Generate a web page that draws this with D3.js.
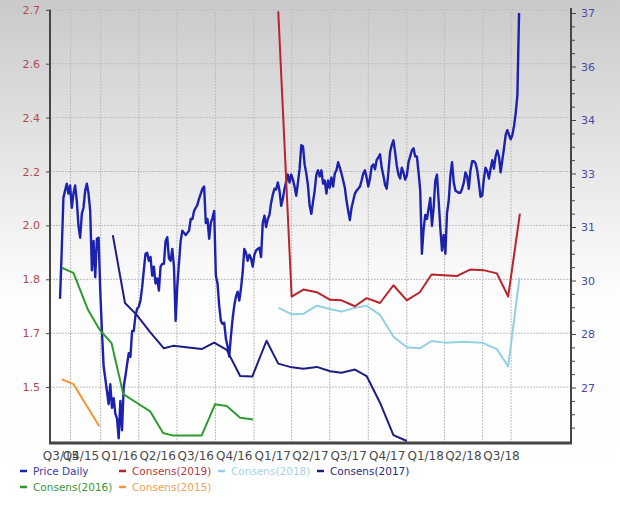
<!DOCTYPE html>
<meta charset="utf-8">
<style>
body { margin: 0; }
.grid line { stroke: #bdbdbd; stroke-width: 1; stroke-dasharray: 2,1; }
.axis-line { stroke: #454545; }
.line { fill: none; stroke-width: 2px; stroke-linejoin: round; }
.xlab { font: 12px "DejaVu Sans", sans-serif; fill: #4a4a4a; }
.legend text { font: 10.5px "DejaVu Sans", sans-serif; }
</style>
<body>

<script src="https://d3js.org/d3.v7.min.js"></script>
<script>

// ---- data ----
var leftTicks = [1.5, 1.7, 1.8, 2.0, 2.2, 2.4, 2.6, 2.7];
var rightTicks = [27, 28, 30, 31, 33, 34, 36, 37];
var quarterLabels = ["Q3/15", "Q4/15", "Q1/16", "Q2/16", "Q3/16", "Q4/16", "Q1/17",
                     "Q2/17", "Q3/17", "Q4/17", "Q1/18", "Q2/18", "Q3/18"];
var gridDates = ["2015-10-21", "2016-01-01", "2016-04-01", "2016-07-01", "2016-10-01",
                 "2017-01-01", "2017-04-01", "2017-07-01", "2017-10-01", "2018-01-01",
                 "2018-04-01", "2018-07-01", "2018-09-07"];

// Price Daily (right axis), one value every 4 days from 2015-09-26
var priceStart = "2015-09-26";
var priceStepDays = 4;
var priceDaily = [
  29.32, 30.56, 32.09, 32.36, 32.62, 32.25, 32.55, 31.72, 32.25, 32.55,
  31.98, 31.04, 30.80, 31.49, 31.72, 32.36, 32.62, 32.25, 31.60, 30.19,
  30.74, 30.06, 30.78, 30.80, 29.62, 28.11, 27.40, 27.17, 26.93, 26.69,
  27.06, 26.62, 26.80, 26.51, 26.42, 26.05, 26.75, 26.20, 27.02, 27.21,
  27.43, 27.64, 27.57, 28.11, 28.11, 28.68, 28.94, 29.02, 29.25, 29.74,
  30.19, 30.50, 30.52, 30.37, 30.44, 30.09, 30.26, 29.89, 30.04, 29.62,
  30.26, 30.31, 30.31, 30.74, 30.81, 30.41, 30.37, 30.59, 30.26, 28.49,
  29.81, 30.33, 30.74, 30.93, 30.89, 30.85, 30.89, 30.93, 31.30, 31.30,
  31.60, 31.72, 31.83, 32.06, 32.25, 32.43, 32.51, 31.15, 31.30, 30.78,
  31.15, 31.34, 31.60, 30.09, 29.89, 29.06, 28.49, 28.38, 28.42, 27.91,
  27.77, 27.58, 27.96, 28.57, 29.06, 29.40, 29.58, 29.25, 29.70, 30.15,
  30.59, 30.52, 30.37, 30.48, 30.41, 30.26, 30.48, 30.56, 30.59, 30.61,
  30.44, 31.15, 31.42, 31.00, 31.30, 31.45, 31.91, 32.21, 32.43, 32.40,
  32.66, 32.36, 31.79, 32.06, 32.43, 32.70, 32.96, 32.66, 32.96, 32.77,
  32.51, 32.17, 32.66, 33.09, 33.53, 33.51, 33.17, 33.00, 32.55, 31.79,
  31.49, 31.94, 32.36, 32.96, 33.06, 32.89, 33.06, 32.62, 32.74, 32.25,
  32.74, 32.47, 32.85, 32.51, 33.00, 33.06, 33.21, 33.11, 33.00, 32.74,
  32.47, 31.98, 31.60, 31.26, 31.72, 31.98, 32.25, 32.36, 32.43, 32.51,
  32.74, 33.00, 33.06, 32.85, 32.51, 32.81, 33.13, 33.17, 33.08, 33.25,
  33.30, 33.36, 33.11, 32.92, 32.58, 32.43, 33.02, 33.40, 33.53, 33.62,
  33.40, 33.15, 32.96, 32.81, 33.11, 33.02, 32.77, 32.92, 33.21, 33.32,
  33.43, 33.47, 33.32, 33.32, 33.02, 32.36, 30.50, 30.96, 31.45, 31.30,
  31.68, 32.09, 31.04, 31.72, 32.74, 32.96, 31.98, 30.98, 30.56, 30.85,
  30.50, 31.53, 31.98, 32.92, 33.21, 32.66, 32.36, 32.32, 32.28, 32.28,
  32.43, 32.66, 33.02, 32.89, 32.43, 33.06, 33.23, 33.23, 33.19, 33.06,
  32.66, 32.13, 32.17, 32.81, 33.11, 33.04, 32.81, 33.09, 33.25, 33.09,
  33.32, 33.43, 33.32, 33.02, 33.25, 33.47, 33.72, 33.81, 33.72, 33.64,
  33.72, 33.89, 34.26, 34.93, 37.00
];

// consensus estimates (left axis)
var consens2019Dates = ["2017-02-28", "2017-04-01", "2017-04-29", "2017-05-31", "2017-07-02",
  "2017-07-29", "2017-08-30", "2017-09-27", "2017-10-29", "2017-11-30", "2018-01-01",
  "2018-02-01", "2018-03-01", "2018-04-30", "2018-06-01", "2018-07-03", "2018-08-04",
  "2018-08-31", "2018-09-28"];
var consens2019 = [2.697, 1.768, 1.781, 1.776, 1.762, 1.761, 1.750, 1.765, 1.756, 1.789,
  1.761, 1.776, 1.818, 1.812, 1.836, 1.834, 1.822, 1.768, 2.044];

var consens2018Dates = ["2017-03-01", "2017-04-01", "2017-04-29", "2017-05-31", "2017-07-02",
  "2017-07-29", "2017-08-30", "2017-09-27", "2017-10-29", "2017-11-30", "2018-01-01",
  "2018-02-01", "2018-03-01", "2018-04-02", "2018-05-16", "2018-06-29", "2018-08-04",
  "2018-08-31", "2018-09-27"];
var consens2018 = [1.747, 1.735, 1.736, 1.751, 1.745, 1.740, 1.747, 1.751, 1.734, 1.687,
  1.648, 1.644, 1.671, 1.665, 1.668, 1.665, 1.641, 1.577, 1.806];

var consens2017Dates = ["2016-01-30", "2016-02-28", "2016-03-27", "2016-04-28", "2016-05-31",
  "2016-06-22", "2016-08-29", "2016-09-28", "2016-10-28", "2016-11-29", "2016-12-28",
  "2017-01-31", "2017-02-28", "2017-03-28", "2017-04-29", "2017-05-31", "2017-07-02",
  "2017-07-29", "2017-08-30", "2017-09-27", "2017-10-29", "2017-11-30", "2018-01-01"];
var consens2017 = [1.964, 1.756, 1.734, 1.702, 1.644, 1.653, 1.641, 1.665, 1.638, 1.541,
  1.539, 1.672, 1.587, 1.575, 1.568, 1.575, 1.559, 1.553, 1.565, 1.541, 1.471, 1.411, 1.400];

var consens2016Dates = ["2015-09-30", "2015-10-28", "2015-12-02", "2015-12-30", "2016-01-27",
  "2016-02-24", "2016-03-27", "2016-04-28", "2016-05-29", "2016-06-22", "2016-08-29",
  "2016-09-30", "2016-10-28", "2016-11-29", "2016-12-30"];
var consens2016 = [1.843, 1.824, 1.743, 1.706, 1.663, 1.487, 1.471, 1.455, 1.415, 1.410,
  1.410, 1.468, 1.465, 1.443, 1.440];

var consens2015Dates = ["2015-09-30", "2015-10-28", "2015-12-29"];
var consens2015 = [1.529, 1.511, 1.427];

// ---- layout ----
var width = 620, height = 506;
var plot = {left: 50, right: 571, top: 8, bottom: 443};
var parseDate = d3.timeParse("%Y-%m-%d");

var svg = d3.select("body").append("svg")
    .attr("width", width)
    .attr("height", height);

// background gradient
var grad = svg.append("defs").append("linearGradient")
    .attr("id", "bg").attr("x1", 0).attr("y1", 0).attr("x2", 0).attr("y2", 1);
grad.append("stop").attr("offset", 0).attr("stop-color", "#cacaca");
grad.append("stop").attr("offset", 0.58).attr("stop-color", "#fdfdfd");
grad.append("stop").attr("offset", 1).attr("stop-color", "#ffffff");
svg.append("rect").attr("width", width).attr("height", height).attr("fill", "url(#bg)");

// scales
var x = d3.scaleTime()
    .domain([parseDate("2015-09-02"), parseDate("2019-01-28")])
    .range([plot.left, plot.right]);

// the axes are evenly spaced between irregular tick values
var leftDomain = [1.4].concat(leftTicks);
var yL = d3.scaleLinear()
    .domain(leftDomain)
    .range(leftDomain.map(function(d, i) { return 441 - i * 53.9; }));

var rightDomain = [26].concat(rightTicks);
var yR = d3.scaleLinear()
    .domain(rightDomain)
    .range(rightDomain.map(function(d, i) { return 441 - i * 53.5; }));

// gridlines
var grid = svg.append("g").attr("class", "grid");
grid.selectAll(".h").data(leftTicks).enter().append("line")
    .attr("x1", plot.left).attr("x2", plot.right)
    .attr("y1", function(d) { return yL(d); })
    .attr("y2", function(d) { return yL(d); });
grid.selectAll(".v").data(gridDates).enter().append("line")
    .attr("x1", function(d) { return x(parseDate(d)); })
    .attr("x2", function(d) { return x(parseDate(d)); })
    .attr("y1", plot.top + 4).attr("y2", plot.bottom);

// series
var priceData = priceDaily.map(function(v, i) {
  return {date: d3.timeDay.offset(parseDate(priceStart), i * priceStepDays), value: v};
});

function pairs(dates, vals) {
  return dates.map(function(d, i) { return {date: parseDate(d), value: vals[i]}; });
}

var lineR = d3.line()
    .x(function(d) { return x(d.date); })
    .y(function(d) { return yR(d.value); });
var lineL = d3.line()
    .x(function(d) { return x(d.date); })
    .y(function(d) { return yL(d.value); });

svg.append("path").datum(priceData)
    .attr("class", "line").attr("stroke", "#1c22ad")
    .style("stroke-width", "2.4px").attr("d", lineR);

var consens = [
  {name: "Consens(2015)", color: "#f2983a", data: pairs(consens2015Dates, consens2015)},
  {name: "Consens(2016)", color: "#2f9b2f", data: pairs(consens2016Dates, consens2016)},
  {name: "Consens(2017)", color: "#1d1d86", data: pairs(consens2017Dates, consens2017)},
  {name: "Consens(2018)", color: "#93d0e2", data: pairs(consens2018Dates, consens2018)},
  {name: "Consens(2019)", color: "#b8242b", data: pairs(consens2019Dates, consens2019)}
];
consens.forEach(function(s) {
  svg.append("path").datum(s.data)
      .attr("class", "line").attr("stroke", s.color).attr("d", lineL);
});

// left axis
var gL = svg.append("g")
    .attr("transform", "translate(" + plot.left + ",0)")
    .call(d3.axisLeft(yL).tickValues(leftTicks).tickSize(4).tickPadding(6)
          .tickFormat(d3.format(".1f")));
gL.select(".domain").remove();
gL.selectAll("line").attr("stroke", "#454545");
gL.selectAll("text").attr("fill", "#b5494b")
    .style("font", "11px 'DejaVu Sans', sans-serif");

// right axis with minor ticks
var minor = [];
for (var i = 0; i < rightDomain.length - 1; i++) {
  var y0 = yR(rightDomain[i]), y1 = yR(rightDomain[i + 1]);
  for (var j = 1; j < 4; j++) minor.push(yR.invert(y0 + (y1 - y0) * j / 4));
}
var gRm = svg.append("g")
    .attr("transform", "translate(" + plot.right + ",0)")
    .call(d3.axisRight(yR).tickValues(minor).tickSize(4).tickFormat(""));
gRm.select(".domain").remove();
gRm.selectAll("line").attr("stroke", "#454545");

var gR = svg.append("g")
    .attr("transform", "translate(" + plot.right + ",0)")
    .call(d3.axisRight(yR).tickValues(rightTicks).tickSize(5).tickPadding(5));
gR.select(".domain").remove();
gR.selectAll("line").attr("stroke", "#454545");
gR.selectAll("text").attr("fill", "#4a4aa6")
    .style("font", "11px 'DejaVu Sans', sans-serif");

// axis frame lines
svg.append("line").attr("class", "axis-line").attr("stroke-width", 2)
    .attr("x1", plot.left).attr("x2", plot.left).attr("y1", yL(2.7)).attr("y2", plot.bottom);
svg.append("line").attr("class", "axis-line").attr("stroke-width", 2)
    .attr("x1", plot.right).attr("x2", plot.right).attr("y1", plot.top).attr("y2", plot.bottom);
svg.append("line").attr("class", "axis-line").attr("stroke-width", 3)
    .attr("x1", plot.left - 1).attr("x2", plot.right + 1).attr("y1", plot.bottom).attr("y2", plot.bottom);

// quarter labels, centred in each quarter (the first two overlap, as in the source)
svg.selectAll(".xlab").data(quarterLabels).enter().append("text")
    .attr("class", "xlab")
    .attr("text-anchor", "middle")
    .attr("x", function(d) {
      var q = +d[1], yr = 2000 + +d.slice(3);
      var mid = d3.timeDay.offset(new Date(yr, (q - 1) * 3, 1), 45);
      return Math.max(x(mid), 61);
    })
    .attr("y", 460)
    .text(function(d) { return d; });

// legend
var legendItems = [
  {name: "Price Daily", color: "#1f24a8", text: "#3b3ba3"},
  {name: "Consens(2019)", color: "#b8242b", text: "#b53b3e"},
  {name: "Consens(2018)", color: "#93d0e2", text: "#a6d3e3"},
  {name: "Consens(2017)", color: "#1d1d86", text: "#2b2b80"},
  {name: "Consens(2016)", color: "#2f9b2f", text: "#3a963a"},
  {name: "Consens(2015)", color: "#f2983a", text: "#eba25a"}
];
var legend = svg.append("g").attr("class", "legend");
var item = legend.selectAll("g").data(legendItems).enter().append("g")
    .attr("transform", function(d, i) {
      return "translate(" + (20 + (i % 4) * 99) + "," + (471 + Math.floor(i / 4) * 16) + ")";
    });
item.append("line").attr("x1", 0).attr("x2", 7)
    .attr("stroke", function(d) { return d.color; }).attr("stroke-width", 2.5);
item.append("text").attr("x", 13).attr("dy", "0.35em")
    .attr("fill", function(d) { return d.text; })
    .text(function(d) { return d.name; });

</script>
</body>
